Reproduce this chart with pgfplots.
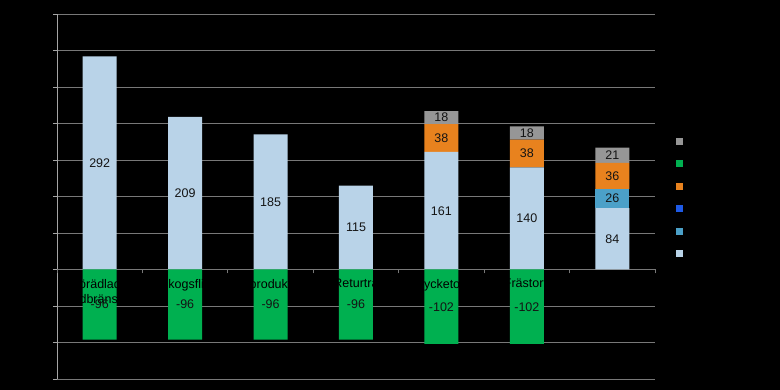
\documentclass[border=0pt]{standalone}
\usepackage{pgfplots}
\pgfplotsset{compat=1.18}
\usepackage{fontspec}
\setmainfont{Liberation Sans}
\definecolor{cLight}{RGB}{185,211,232}
\definecolor{cMed}{RGB}{75,160,200}
\definecolor{cBlue}{RGB}{30,90,230}
\definecolor{cOrange}{RGB}{232,130,30}
\definecolor{cGreen}{RGB}{0,176,80}
\definecolor{cGray}{RGB}{150,150,150}
\definecolor{cGrid}{RGB}{120,120,120}
\definecolor{cAxis}{RGB}{165,165,165}
\definecolor{cLab}{RGB}{20,20,20}
\pgfplotsset{
  sqlegend/.style={legend image code/.code={\fill[##1] (0pt,-3.5pt) rectangle (7pt,3.5pt);}},
  barlabels/.style={
    nodes near coords={\pgfmathfloatifflags{\pgfplotspointmeta}{0}{}{\pgfmathprintnumber{\pgfplotspointmeta}}},
    every node near coord/.append style={anchor=center, text=cLab,
      font=\fontsize{12.5}{14}\selectfont, inner sep=0pt},
  },
  negbarlabels/.style={
    barlabels,
    visualization depends on=rawy \as \rawy,
    every node near coord/.append style={shift={(axis direction cs:0,-\rawy/2)}},
  },
}
\begin{document}
\begin{tikzpicture}
\fill[black] (0,0) rectangle (780pt,390pt);
\useasboundingbox (0,0) rectangle (780pt,390pt);
\begin{axis}[
  at={(57pt,11pt)}, anchor=south west,
  scale only axis, width=598pt, height=365pt,
  xmin=-0.5, xmax=6.5, ymin=-150, ymax=350,
  ytick={-150,-100,...,350},
  axis x line=none, axis y line=left,
  axis line style={-, draw=cAxis, line width=0.8pt},
  ytick align=outside, major tick length=4pt,
  ytick style={draw=cAxis, line width=0.8pt},
  yticklabel style={text=black, font=\fontsize{12.5}{14}\selectfont},
  /pgf/number format/assume math mode=true,
  ymajorgrids, grid style={draw=cGrid, line width=0.8pt},
  ybar stacked, bar width=34pt,
  reverse legend,
  legend cell align=left,
  legend style={draw=none, fill=none, at={(1.0343,0.668)}, anchor=north west,
    font=\fontsize{12.5}{14}\selectfont, text=black, row sep=10.5pt, inner sep=0pt,
    nodes={inner sep=0pt, text height=9pt, text depth=3pt}},
]
\addplot[fill=cLight, draw=none, sqlegend, barlabels] coordinates {(0,292) (1,209) (2,185) (3,115) (4,161) (5,140) (6,84)};
\addlegendentry{Bränslepris}
\addplot[fill=cMed, draw=none, sqlegend, barlabels] coordinates {(0,0) (1,0) (2,0) (3,0) (4,0) (5,0) (6,26)};
\addlegendentry{Energiskatt}
\addplot[fill=cBlue, draw=none, sqlegend, barlabels] coordinates {(0,0) (1,0) (2,0) (3,0) (4,0) (5,0) (6,0)};
\addlegendentry{Koldioxidskatt}
\addplot[fill=cOrange, draw=none, sqlegend, barlabels] coordinates {(0,0) (1,0) (2,0) (3,0) (4,38) (5,38) (6,36)};
\addlegendentry{Utsläppsrätter}
\addlegendimage{fill=cGreen, draw=none, sqlegend}
\addlegendentry{Elcertifikat}
\addplot[fill=cGray, draw=none, sqlegend, barlabels] coordinates {(0,0) (1,0) (2,0) (3,0) (4,18) (5,18) (6,21)};
\addlegendentry{Svavelskatt}
\end{axis}
\begin{axis}[
  at={(57pt,11pt)}, anchor=south west,
  scale only axis, width=598pt, height=365pt,
  xmin=-0.5, xmax=6.5, ymin=-150, ymax=350,
  axis y line=none, axis x line=middle,
  x axis line style={draw=none},
  axis on top,
  xtick={0,...,6},
  xticklabels={{Förädlade\\trädbränslen},Skogsflis,Biprodukter,Returträ,Stycketorv,Frästorv,Kol},
  xticklabel style={align=center, text=black, font=\fontsize{12.5}{15.5}\selectfont, anchor=north, yshift=-2pt},
  major x tick style={draw=none},
  minor xtick={-0.5,0.5,...,6.5},
  minor x tick style={draw=cGrid, line width=0.8pt},
  xtick align=outside, minor tick length=4pt,
  /pgf/number format/assume math mode=true,
  ybar, bar width=34pt,
]
\addplot[fill=cGreen, draw=none, negbarlabels] coordinates {(0,-96) (1,-96) (2,-96) (3,-96) (4,-102) (5,-102)};
\end{axis}
\end{tikzpicture}
\end{document}
